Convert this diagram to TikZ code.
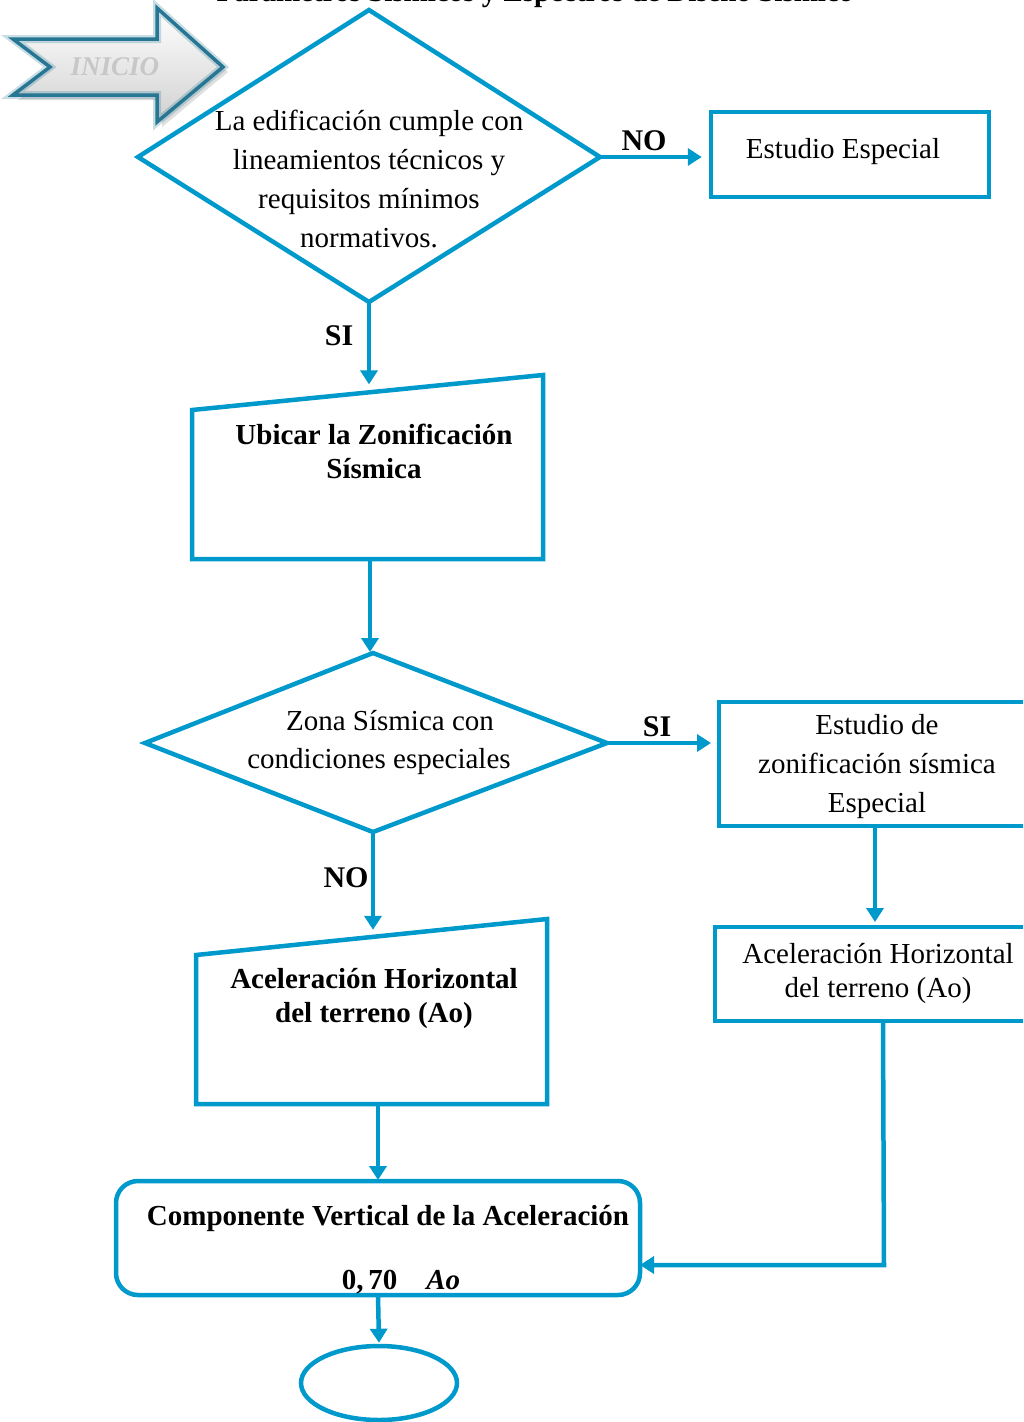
\documentclass[tikz,border=0pt]{standalone}
\usepackage{fontspec}
\setmainfont{Liberation Serif}
\usetikzlibrary{arrows.meta,shapes.geometric}
\definecolor{flow}{RGB}{0,153,204}
\definecolor{inicio}{RGB}{38,118,148}
\begin{document}
\begin{tikzpicture}[x=1pt,y=-1pt,
  line/.style={draw=flow,line width=4.5pt,line join=miter},
  arr/.style={line,-{Triangle[length=14pt,width=17pt]}},
  txt/.style={font=\fontsize{29}{39}\selectfont,align=center,inner sep=0pt},
  tighttxt/.style={font=\fontsize{29}{34}\selectfont,align=center,inner sep=0pt},
  btxt/.style={font=\fontsize{29}{34}\selectfont\bfseries,align=center,inner sep=0pt},
  lbl/.style={font=\fontsize{30}{32}\selectfont\bfseries,inner sep=0pt},
  boxed/.style={line,rectangle,inner sep=0pt}]
\clip (0,0) rectangle (1023,1422);
\useasboundingbox (0,0) rectangle (1023,1422);

% heading, cut by the top edge
\node[anchor=base,font=\fontsize{29}{34}\selectfont\bfseries,inner sep=0pt] (title) at (535,1)
  {Parámetros Sísmicos y Espectros de Diseño Sísmico};

% start arrow
\coordinate (s1) at (13,39);  \coordinate (s2) at (157,39);
\coordinate (s3) at (157,8);  \coordinate (s4) at (223,67);
\coordinate (s5) at (157,122); \coordinate (s6) at (157,95);
\coordinate (s7) at (13,95);  \coordinate (s8) at (50,67);
\fill[black!25,opacity=0.5] ([shift={(5,5)}]s1) -- ([shift={(5,5)}]s2) -- ([shift={(5,5)}]s3) -- ([shift={(5,5)}]s4)
  -- ([shift={(5,5)}]s5) -- ([shift={(5,5)}]s6) -- ([shift={(5,5)}]s7) -- ([shift={(5,5)}]s8) -- cycle;
\shade[top color=white,bottom color=black!18] (s1) -- (s2) -- (s3) -- (s4) -- (s5) -- (s6) -- (s7) -- (s8) -- cycle;
\draw[inicio,line width=8pt,opacity=0.25,line join=miter] (s1) -- (s2) -- (s3) -- (s4) -- (s5) -- (s6) -- (s7) -- (s8) -- cycle;
\draw[inicio,line width=3.5pt,line join=miter] (s1) -- (s2) -- (s3) -- (s4) -- (s5) -- (s6) -- (s7) -- (s8) -- cycle;
\node[font=\fontsize{27}{30}\selectfont\bfseries\itshape,text=black!22,inner sep=0pt] (inicio) at (115,67) {INICIO};

% first decision
\draw[line] (369,10) coordinate (d1t) -- (600,157) coordinate (d1r)
  -- (369,302) coordinate (d1b) -- (138,157) coordinate (d1l) -- cycle;
\node[txt] (q1) at (369,179) {La edificación cumple con\\lineamientos técnicos y\\requisitos mínimos\\normativos.};

\node[boxed,minimum width=278pt,minimum height=85pt] (esp) at (850,154.5) {};
\node[txt] (esptxt) at (843,152) {Estudio Especial};
\draw[arr,shorten >=7pt] (d1r) -- (esp.west |- d1r);
\node[lbl] (no1) at (644,141) {NO};

% seismic zoning (manual input)
\draw[line] (192,410) coordinate (m1tl) -- (543,375) coordinate (m1tr)
  -- (543,559) coordinate (m1br) -- (192,559) coordinate (m1bl) -- cycle;
\coordinate (m1top) at (369,392.4);
\coordinate (m1bot) at (370,559);
\node[btxt] (ubicar) at (374,451) {Ubicar la Zonificación\\Sísmica};
\draw[arr,shorten >=8pt] (d1b) -- (m1top);
\node[lbl] (si1) at (339,336) {SI};

% second decision
\draw[line] (373,653) coordinate (d2t) -- (607,743) coordinate (d2r)
  -- (373,832) coordinate (d2b) -- (145,743) coordinate (d2l) -- cycle;
\draw[arr,shorten >=1pt] (m1bot) -- (d2t -| m1bot);
\node[txt] (q2a) at (390,721) {Zona Sísmica con};
\node[txt] (q2b) at (379,762) {condiciones especiales};

% special zoning branch
\draw[line] (1040,702) -- (719,702) coordinate (zs1) -- (719,826) coordinate (zs2) -- (1040,826);
\node[txt] (zonif) at (877,767) {Estudio de\\zonificación sísmica\\Especial};
\draw[arr,shorten >=8pt] (d2r) -- (zs1 |- d2r);
\node[lbl] (si2) at (657,727) {SI};

\draw[line] (1040,927) -- (715,927) coordinate (ah1) -- (715,1021) coordinate (ah2) -- (1040,1021);
\node[tighttxt] (acel2) at (878,973) {Aceleración Horizontal\\del terreno (Ao)};
\coordinate (z2b) at (875,826);
\draw[arr,shorten >=5pt] (z2b) -- (z2b |- ah1);

% standard acceleration (manual input)
\draw[line] (196,955) coordinate (m2tl) -- (547,919) coordinate (m2tr)
  -- (547,1104) coordinate (m2br) -- (196,1104) coordinate (m2bl) -- cycle;
\coordinate (m2top) at (373,936.8);
\coordinate (m2bot) at (378,1104);
\node[btxt] (acel1) at (374,998) {Aceleración Horizontal\\del terreno (Ao)};
\draw[arr,shorten >=7pt] (d2b) -- (m2top);
\node[lbl] (no2) at (346,878) {NO};

% vertical component
\draw[line,rounded corners=22pt] (116,1181) rectangle (640,1295);
\coordinate (cvtop) at (378,1181);
\coordinate (cvbot) at (378,1295);
\coordinate (cvright) at (640,1265);
\node[btxt] (comp) at (388,1218) {Componente Vertical de la Aceleración};
\node[btxt] (coef) at (401,1282) {0,\,70\quad\textit{Ao}};
\draw[arr,shorten >=1pt] (m2bot) -- (cvtop);

\coordinate (ah3) at (883,1021);
\draw[arr,shorten >=0pt] (ah3) -- (884,1265) -- (cvright);

% end
\node[line,ellipse,minimum width=156pt,minimum height=74pt,inner sep=0pt] (fin) at (379,1383) {};
\draw[arr,shorten >=1pt] (cvbot) -- (fin.north);
\end{tikzpicture}
\end{document}
